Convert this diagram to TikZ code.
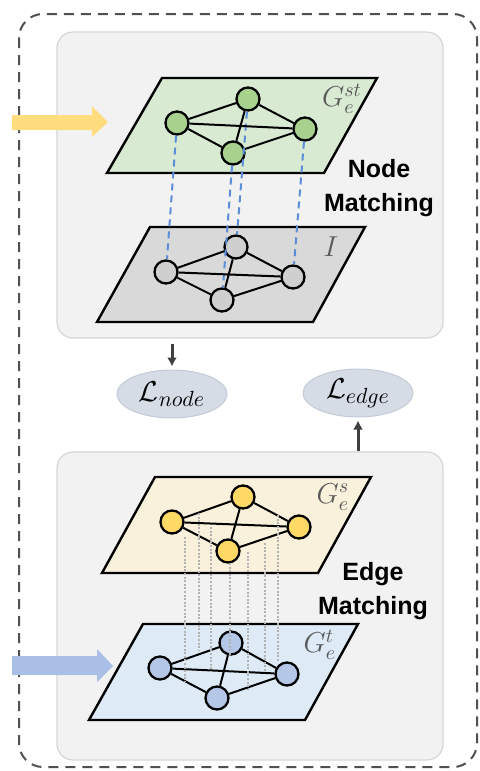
\documentclass[tikz,border=0pt]{standalone}
\usepackage{fontspec}
\setsansfont{Liberation Sans}
\usepackage{amsmath,amssymb}
\usetikzlibrary{arrows.meta,shapes.geometric}

\definecolor{greenplane}{HTML}{D9EAD3}
\definecolor{greennode}{HTML}{A9D18E}
\definecolor{greyplane}{HTML}{D9D9D9}
\definecolor{greynode}{HTML}{CFCFCF}
\definecolor{yellowplane}{HTML}{FAF1DC}
\definecolor{yellownode}{HTML}{FFD966}
\definecolor{blueplane}{HTML}{DEEBF7}
\definecolor{bluenode}{HTML}{B4C7E7}
\definecolor{panelfill}{HTML}{F2F2F2}
\definecolor{panelline}{HTML}{D6D6D6}
\definecolor{lossfill}{HTML}{D6DCE5}
\definecolor{lossline}{HTML}{C3CBD6}
\definecolor{labelgrey}{HTML}{595959}
\definecolor{matchblue}{HTML}{5B8DD9}
\definecolor{arrowgrey}{HTML}{404040}
\definecolor{outergrey}{HTML}{505050}
\definecolor{inyellow}{HTML}{FFDC7D}
\definecolor{inblue}{HTML}{A9BFE5}

\begin{document}
\begin{tikzpicture}[x=0.5pt,y=-0.5pt,
  gnode/.style={circle,draw=black,line width=1.15pt,minimum size=11.5pt,inner sep=0pt},
  gedge/.style={line width=1pt},
  plane/.style={draw=black,line width=1.2pt},
  panel/.style={draw=panelline,fill=panelfill,rounded corners=8pt,line width=0.6pt,inner sep=0pt},
  loss/.style={ellipse,draw=lossline,fill=lossfill,line width=0.5pt,minimum width=55pt,minimum height=24pt,inner sep=0pt,font=\fontsize{15}{17}\selectfont},
  glabel/.style={text=labelgrey,font=\fontsize{14}{16}\selectfont},
  mtext/.style={align=center,font=\sffamily\bfseries\fontsize{12.5}{17}\selectfont},
  match/.style={draw=matchblue,line width=1pt,dash pattern=on 3.5pt off 2.5pt},
  edgelink/.style={draw=gray!60,line width=1.1pt,dash pattern=on 1pt off 0.8pt},
  lossarrow/.style={-{Latex[length=4.5pt,width=5pt]},line width=1.5pt,draw=arrowgrey,fill=arrowgrey}
]
\useasboundingbox (0,0) rectangle (480,771);

\draw[outergrey,line width=1pt,dash pattern=on 5pt off 3.5pt,rounded corners=12pt] (19,14) rectangle (477,767);

\node[panel,minimum width=193pt,minimum height=153pt] (top) at (250,185) {};
\node[panel,minimum width=193pt,minimum height=154pt] (bot) at (250,606) {};

\fill[inyellow] (12,115) -- (92,115) -- (92,106) -- (108,122) -- (92,137) -- (92,130) -- (12,130) -- cycle;
\fill[inblue] (12,656) -- (97,656) -- (97,649) -- (113,666) -- (97,682) -- (97,675) -- (12,675) -- cycle;

\filldraw[plane,fill=greenplane] (162,78) -- (377,78) -- (324,173) -- (107,173) -- cycle;
\filldraw[plane,fill=greyplane] (150,227) -- (365,227) -- (313,322) -- (97,322) -- cycle;
\filldraw[plane,fill=yellowplane] (155,477) -- (371,477) -- (318,573) -- (102,573) -- cycle;
\filldraw[plane,fill=blueplane] (143,624) -- (358,624) -- (305,720) -- (89,720) -- cycle;

\node[glabel] (lst) at (342,99) {$G_e^{st}$};
\node[glabel] (li) at (331,247) {$I$};
\node[glabel] (ls) at (333,497) {$G_e^{s}$};
\node[glabel] (lt) at (320,645) {$G_e^{t}$};

\node[gnode,fill=greennode] (gA) at (177,123) {};
\node[gnode,fill=greennode] (gB) at (248,99) {};
\node[gnode,fill=greennode] (gC) at (233,153) {};
\node[gnode,fill=greennode] (gD) at (305,129) {};

\node[gnode,fill=greynode] (iA) at (166,272) {};
\node[gnode,fill=greynode] (iB) at (236,247) {};
\node[gnode,fill=greynode] (iC) at (222,300) {};
\node[gnode,fill=greynode] (iD) at (293,277) {};

\node[gnode,fill=yellownode] (sA) at (172,522) {};
\node[gnode,fill=yellownode] (sB) at (243,497) {};
\node[gnode,fill=yellownode] (sC) at (228,551) {};
\node[gnode,fill=yellownode] (sD) at (299,527) {};

\node[gnode,fill=bluenode] (tA) at (160,668) {};
\node[gnode,fill=bluenode] (tB) at (231,643) {};
\node[gnode,fill=bluenode] (tC) at (217,698) {};
\node[gnode,fill=bluenode] (tD) at (287,674) {};

\draw[match] (gA) -- (iA);
\draw[match] (gB) -- (iB);
\draw[match] (gC) -- (iC);
\draw[match] (gD) -- (iD);

\draw[gedge] (gA) -- (gB) (gA) -- (gC) (gA) -- (gD) (gB) -- (gC) (gB) -- (gD) (gC) -- (gD);
\draw[gedge] (iA) -- (iB) (iA) -- (iC) (iA) -- (iD) (iB) -- (iC) (iB) -- (iD) (iC) -- (iD);
\draw[gedge] (sA) -- (sB) (sA) -- (sC) (sA) -- (sD) (sB) -- (sC) (sB) -- (sD) (sC) -- (sD);
\draw[gedge] (tA) -- (tB) (tA) -- (tC) (tA) -- (tD) (tB) -- (tC) (tB) -- (tD) (tC) -- (tD);

\draw[edgelink] (185,537) -- (185,682);
\draw[edgelink] (199,513) -- (199,650);
\draw[edgelink] (211,527) -- (211,672);
\draw[edgelink] (230,563) -- (230,655);
\draw[edgelink] (248,552) -- (248,690);
\draw[edgelink] (265,543) -- (265,672);
\draw[edgelink] (278,515) -- (278,662);

\node[mtext] (nm) at (379,188) {Node\\Matching};
\node[mtext] (em) at (373,591) {Edge\\Matching};

\node[loss] (lnode) at (172,394) {$\mathcal{L}_{node}$};
\node[loss] (ledge) at (358,393) {$\mathcal{L}_{edge}$};

\draw[lossarrow,shorten >=1.5pt,shorten <=2.5pt] (top.south -| lnode.north) -- (lnode.north);
\draw[lossarrow,shorten >=1.5pt] (bot.north -| ledge.south) -- (ledge.south);

\end{tikzpicture}
\end{document}
